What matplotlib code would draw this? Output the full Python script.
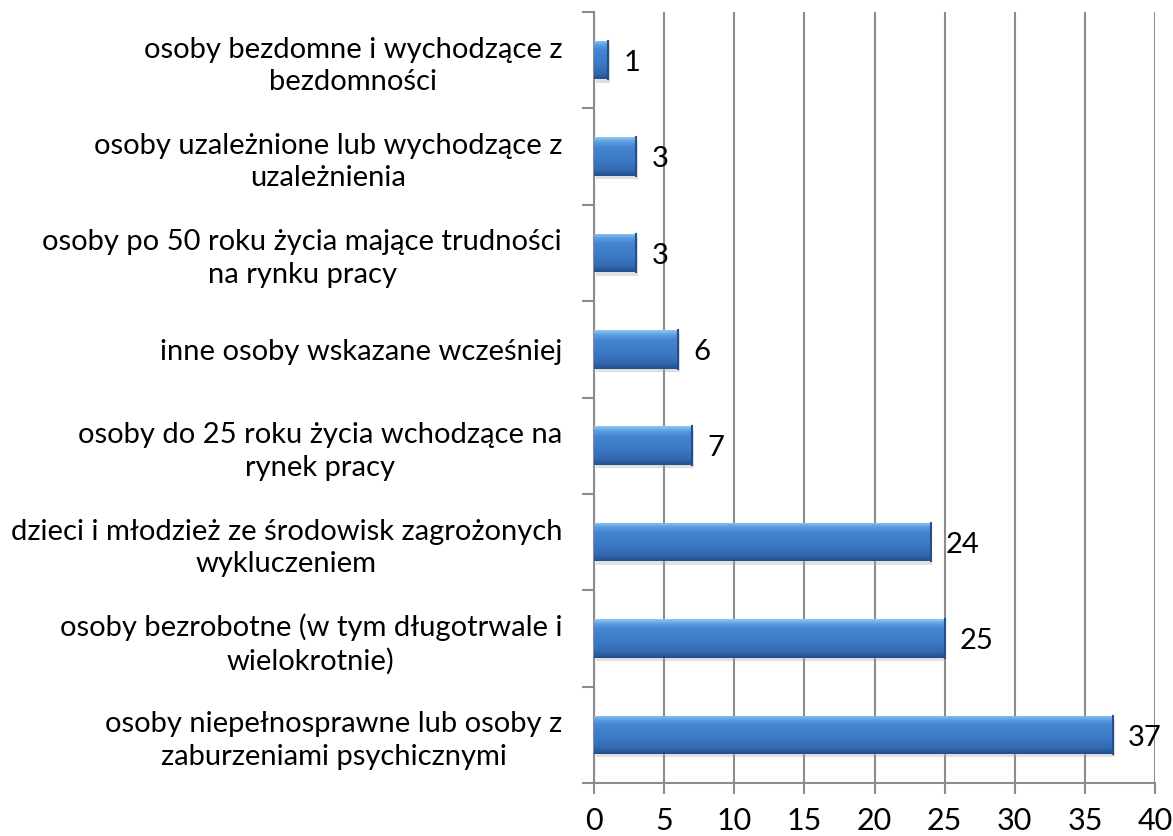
import numpy as np
import matplotlib
matplotlib.use("Agg")
import matplotlib.pyplot as plt
from matplotlib.colors import LinearSegmentedColormap

categories = [
    "osoby bezdomne i wychodzące z\nbezdomności",
    "osoby uzależnione lub wychodzące z\nuzależnienia",
    "osoby po 50 roku życia mające trudności\nna rynku pracy",
    "inne osoby wskazane wcześniej",
    "osoby do 25 roku życia wchodzące na\nrynek pracy",
    "dzieci i młodzież ze środowisk zagrożonych\nwykluczeniem",
    "osoby bezrobotne (w tym długotrwale i\nwielokrotnie)",
    "osoby niepełnosprawne lub osoby z\nzaburzeniami psychicznymi",
]
values = [1, 3, 3, 6, 7, 24, 25, 37]
x_ticks = [0, 5, 10, 15, 20, 25, 30, 35, 40]

plt.rcParams['font.family'] = ['Lato', 'DejaVu Sans']

fig = plt.figure(figsize=(11.73, 8.36), dpi=100)
ax = fig.add_axes([0.5064, 0.0634, 0.9847 - 0.5064, 0.9856 - 0.0634])

n = len(categories)
ypos = np.arange(n)[::-1]  # first category at top
bar_h = 0.4

# bevelled blue look, top to bottom
bevel = LinearSegmentedColormap.from_list(
    'bevel', [(0.0, '#8ec6f2'), (0.12, '#5c9de0'), (0.25, '#4585d0'),
              (0.6, '#3b79c6'), (0.85, '#3368b0'), (1.0, '#24508a')])
grad = np.linspace(0, 1, 64).reshape(-1, 1)

bars = ax.barh(ypos, values, height=bar_h, color='none', edgecolor='none', zorder=3)
for b, v, y in zip(bars, values, ypos):
    # soft shadow
    ax.add_patch(plt.Rectangle((0.12, y - bar_h / 2 - 0.035), v, bar_h,
                               facecolor='#a8a8a8', alpha=0.35, edgecolor='none', zorder=2.5))
    im = ax.imshow(grad, cmap=bevel, aspect='auto', origin='upper',
                   extent=(0, v, y - bar_h / 2, y + bar_h / 2), zorder=3)
    im.set_clip_path(b)
    ax.plot([v, v], [y - bar_h / 2, y + bar_h / 2], color='#24508a', lw=1.5, zorder=3.5)
    ax.annotate(str(v), (v, y), xytext=(11, -2), textcoords='offset points',
                ha='left', va='center', fontsize=21, color='black', zorder=4)

ax.set_xlim(0, 40)
ax.set_ylim(-0.5, n - 0.5)
ax.set_xticks(x_ticks)
ax.set_xticklabels([str(t) for t in x_ticks], fontsize=22)
ax.grid(axis='x', color='#8c8c8c', lw=1.5, zorder=0)

ax.set_yticks(ypos)
ax.set_yticklabels(categories, fontsize=21, multialignment='center', linespacing=1.3)
ax.set_yticks(np.arange(-0.5, n, 1), minor=True)
ax.tick_params(axis='y', which='major', length=0, pad=23)
ax.tick_params(axis='y', which='minor', length=9, width=1.5, color='#8c8c8c')
ax.tick_params(axis='x', length=8, width=1.5, color='#8c8c8c', pad=9)

for s in ['top', 'right']:
    ax.spines[s].set_visible(False)
for s in ['left', 'bottom']:
    ax.spines[s].set_color('#8c8c8c')
    ax.spines[s].set_linewidth(1.5)

fig.savefig('out.png', dpi=100)
